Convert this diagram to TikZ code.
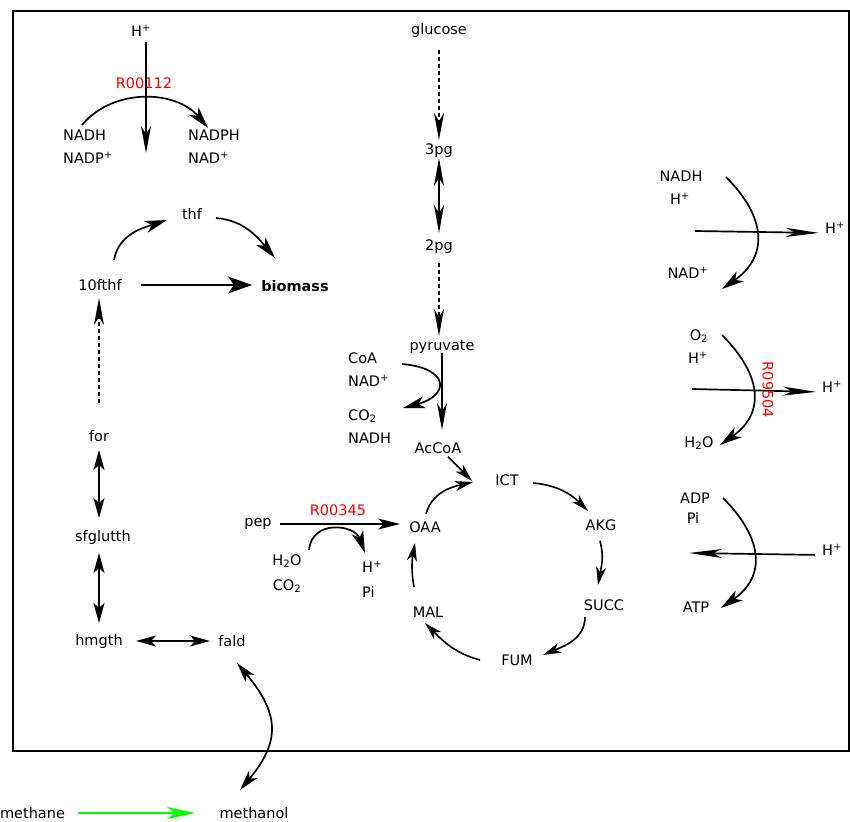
\documentclass[tikz,border=0pt]{standalone}
\usepackage{fontspec}
\setmainfont{DejaVu Sans}
\usetikzlibrary{arrows.meta}
\definecolor{rxnred}{RGB}{255,0,0}
\definecolor{mmogreen}{RGB}{0,255,0}
\newcommand{\hplus}{H\textsuperscript{+}}
\tikzset{
    met/.style={inner sep=0pt, font=\fontsize{14.5}{17}\selectfont},
    rxnid/.style={met, text=rxnred},
    curv/.style={line width=1.7pt, -{Stealth[length=22pt,width=12pt,inset=6pt]}},
    tca/.style={line width=1.6pt, -{Stealth[length=18pt,width=10pt,inset=5pt]}},
    dart/.style={line width=1.7pt, -{Stealth[length=27pt,width=10pt,inset=8pt]}},
    dotdart/.style={dart, dash pattern=on 4pt off 3pt},
    both/.style={line width=1.7pt, {Stealth[length=20pt,width=11pt,inset=5pt]}-{Stealth[length=20pt,width=11pt,inset=5pt]}},
    longboth/.style={line width=1.7pt, {Stealth[length=28pt,width=10pt,inset=8pt]}-{Stealth[length=28pt,width=10pt,inset=8pt]}},
    bigarrow/.style={line width=2.2pt, -{Stealth[length=24pt,width=17pt,inset=6pt]}},
}

\begin{document}
\begin{tikzpicture}[x=1pt, y=1pt, every node/.style={met}]
\useasboundingbox (0,0) rectangle (850,-821);
\draw[line width=1.5pt] (13,-11) rectangle (849,-751); % cell

% transhydrogenase
\node (hin) at (141,-31) {\hplus};
\node[rxnid] (r00112) at (144,-83) {R00112};
\node[anchor=west] (nadh1) at (63,-135) {NADH};
\node[anchor=west] (nadp1) at (63,-158) {NADP\textsuperscript{+}};
\node[anchor=west] (nadph1) at (188,-135) {NADPH};
\node[anchor=west] (nad1) at (188,-158) {NAD\textsuperscript{+}};
\coordinate (a1s) at (82,-125);
\coordinate (a1e) at (208,-128);
\coordinate (h1e) at (146,-153);
\draw[curv] (a1s) to[out=50,in=130] (a1e);
\draw[dart, shorten <=5pt] (hin.south -| h1e) -- (h1e);

% folate
\node (thf) at (192,-214) {thf};
\node (tenf) at (100,-285) {10fthf};
\node[font=\fontsize{14.5}{17}\selectfont\bfseries] (bio) at (295,-286) {biomass};
\coordinate (a2s) at (114,-260);
\coordinate (a2e) at (167,-220);
\coordinate (a3s) at (216,-218);
\coordinate (a3e) at (275,-258);
\draw[curv] (a2s) to[out=80,in=198] (a2e);
\draw[curv] (a3s) to[out=-5,in=130] (a3e);
\draw[bigarrow, shorten <=41pt, shorten >=43pt] (tenf.center) -- (tenf.center -| bio.center);

% serine / formaldehyde branch
\node (for) at (99,-436) {for};
\node (sfg) at (103,-537) {sfglutth};
\node (hmgth) at (99,-641) {hmgth};
\node (fald) at (232,-641) {fald};
\node (methane) at (32.5,-813) {methane};
\node (methanol) at (254,-813) {methanol};
\draw[dotdart, shorten <=33pt, shorten >=13pt] (for.center) -- (for.center |- tenf.center);
\draw[both, shorten <=14pt, shorten >=19pt] (for.center) -- (for.center |- sfg.center);
\draw[both, shorten <=16pt, shorten >=18pt] (hmgth.center |- sfg.center) -- (hmgth.center);
\draw[both, shorten <=37pt, shorten >=22pt] (hmgth.center) -- (fald.center);
\coordinate (f1s) at (237,-663);
\coordinate (f1e) at (240,-790);
\draw[both] (f1s) to[out=-50,in=50,looseness=1.3] (f1e);
\draw[line width=1.7pt, mmogreen, -{Stealth[length=28pt,width=12pt,inset=8pt]},
      shorten <=45pt, shorten >=59pt] (methane.center) -- (methanol.center);

% glycolysis
\node (glc) at (439,-31) {glucose};
\node (pg3) at (439,-151) {3pg};
\node (pg2) at (439,-247) {2pg};
\node (pyr) at (442,-347) {pyruvate};
\node (accoa) at (438,-448) {AcCoA};
\draw[dotdart, shorten <=19pt, shorten >=11pt] (glc.center) -- (pg3.center);
\draw[longboth, shorten <=7pt, shorten >=14pt] (pg3.center) -- (pg2.center);
\draw[dotdart, shorten <=16pt, shorten >=11pt] (pg2.center) -- (pg2.center |- pyr.center);
\draw[dart, shorten <=6pt, shorten >=18pt] (pyr.center) -- (pyr.center |- accoa.center);
\node[anchor=west] (coa) at (348,-358) {CoA};
\node[anchor=west] (nad2) at (348,-381) {NAD\textsuperscript{+}};
\node[anchor=west] (co2a) at (348,-416) {CO\textsubscript{2}};
\node[anchor=west] (nadh2) at (348,-438) {NADH};
\coordinate (a4s) at (402,-364);
\coordinate (a4e) at (403,-408);
\draw[curv] (a4s) to[out=-5,in=15,looseness=2.8] (a4e);

% TCA cycle
\node (ict) at (507,-480) {ICT};
\node (akg) at (601,-525) {AKG};
\node (succ) at (604,-605) {SUCC};
\node (fum) at (517,-660) {FUM};
\node (mal) at (428,-612) {MAL};
\node (oaa) at (425,-527) {OAA};
\coordinate (t0e) at (472,-481);
\draw[tca] ([xshift=10pt,yshift=-3pt]accoa.south) -- (t0e);
\coordinate (t1s) at (426,-514);
\coordinate (t1e) at (473,-482);
\coordinate (t2s) at (533,-483);
\coordinate (t2e) at (588,-511);
\coordinate (t3s) at (600,-541);
\coordinate (t3e) at (598,-585);
\coordinate (t4s) at (585,-617);
\coordinate (t4e) at (543,-655);
\coordinate (t5s) at (480,-660);
\coordinate (t5e) at (425,-623);
\coordinate (t6s) at (414,-587);
\coordinate (t6e) at (415,-543);
\draw[tca] (t1s) to[out=75,in=193] (t1e);
\draw[tca] (t2s) to[out=-5,in=135] (t2e);
\draw[tca] (t3s) to[out=-75,in=80] (t3e);
\draw[tca] (t4s) to[out=-90,in=23] (t4e);
\draw[tca] (t5s) to[out=165,in=-45] (t5e);
\draw[tca] (t6s) to[out=100,in=-100] (t6e);

% anaplerosis
\node (pep) at (258,-524) {pep};
\node[rxnid] (r00345) at (338,-510) {R00345};
\node (h2o) at (287,-561) {H\textsubscript{2}O};
\node (co2b) at (287,-586) {CO\textsubscript{2}};
\node[anchor=west] (hout) at (362,-567) {\hplus};
\node[anchor=west] (pi1) at (362,-592) {Pi};
\draw[dart, -{Stealth[length=22pt,width=11pt,inset=6pt]}, shorten <=22pt, shorten >=25pt] (pep.center) -- (pep.center -| oaa.center);
\coordinate (a5s) at (309,-550);
\coordinate (a5e) at (365,-553);
\draw[curv] (a5s) to[out=85,in=110,looseness=1.4] (a5e);

% respiration and ATP synthase
\node (nadh3) at (681,-176) {NADH};
\node (hin3) at (680,-199) {\hplus};
\node (nad3) at (688,-273) {NAD\textsuperscript{+}};
\node[anchor=west] (hout3) at (825,-228) {\hplus};
\coordinate (b1s) at (726,-177);
\coordinate (b1e) at (722,-289);
\coordinate (m1s) at (695,-231);
\draw[curv] (b1s) to[out=-45,in=35,looseness=1.3] (b1e);
\draw[dart, -{Stealth[length=33pt,width=9pt,inset=9pt]}, shorten >=6pt] (m1s) -- ([yshift=-5pt]hout3.west);

\node (o2) at (699,-336) {O\textsubscript{2}};
\node (hin4) at (698,-358) {\hplus};
\node (h2o4) at (699,-443) {H\textsubscript{2}O};
\node[anchor=west] (hout4) at (822,-387) {\hplus};
\coordinate (b2s) at (722,-335);
\coordinate (b2e) at (720,-445);
\coordinate (m2s) at (692,-389);
\draw[curv] (b2s) to[out=-45,in=35,looseness=1.3] (b2e);
\draw[dart, -{Stealth[length=33pt,width=9pt,inset=9pt]}, shorten >=6pt] (m2s) -- ([yshift=-5pt]hout4.west);
\node[rxnid, rotate=-90] (r09504) at (768,-390) {R09504};

\node (adp) at (695,-498) {ADP};
\node (pi5) at (693,-518) {Pi};
\node (atp) at (696,-607) {ATP};
\node[anchor=west] (hin5) at (822,-550) {\hplus};
\coordinate (b3s) at (723,-498);
\coordinate (b3e) at (721,-608);
\coordinate (m3e) at (689,-553);
\draw[curv] (b3s) to[out=-45,in=35,looseness=1.3] (b3e);
\draw[dart, -{Stealth[length=33pt,width=9pt,inset=9pt]}, shorten <=7pt] ([yshift=-5pt]hin5.west) -- (m3e);
\end{tikzpicture}
\end{document}
